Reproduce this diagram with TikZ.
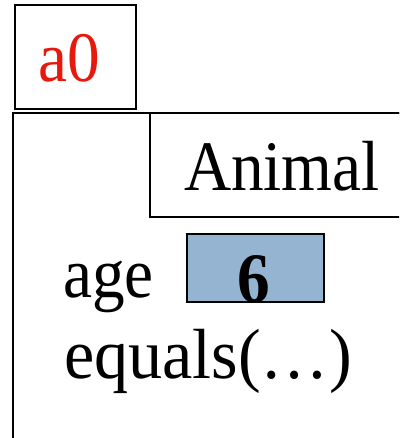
\documentclass[tikz,border=0pt]{standalone}
\usepackage{fontspec}
\setmainfont{Liberation Serif}
\usetikzlibrary{positioning}
\definecolor{refred}{RGB}{230,25,15}
\definecolor{slotblue}{RGB}{149,180,210}
\newcommand{\narrow}[1]{\scalebox{0.92}[1]{#1}}

\begin{document}
\begin{tikzpicture}[x=1pt, y=-1pt, line width=2pt,
    big/.style={font=\fontsize{71}{80}\selectfont, inner sep=0pt, anchor=base west}]
    \useasboundingbox (0,0) rectangle (399,438);
    \clip (0,0) rectangle (399,438);
    % reference variable
    \draw (15,5) rectangle (136,109);
    \node[big, text=refred] (ref) at (37,82) {\narrow{a0}};
    % object with its class tag
    \draw (13,113) rectangle (430,470);
    \draw (150,113) rectangle (430,217);
    \node[big] (cls) at (183,190) {\narrow{Animal}};
    % field and method
    \node[big] (age) at (62,297) {\narrow{age}};
    \draw[fill=slotblue] (187,234) coordinate (slotnw) rectangle (324,302) coordinate (slotse);
    \node[big, anchor=base, font=\fontsize{71}{80}\selectfont\bfseries] (val) at (254,302) {\narrow{6}};
    \node[big] (eq) at (63,378) {\scalebox{0.96}[1]{equals(…)}};
\end{tikzpicture}
\end{document}
